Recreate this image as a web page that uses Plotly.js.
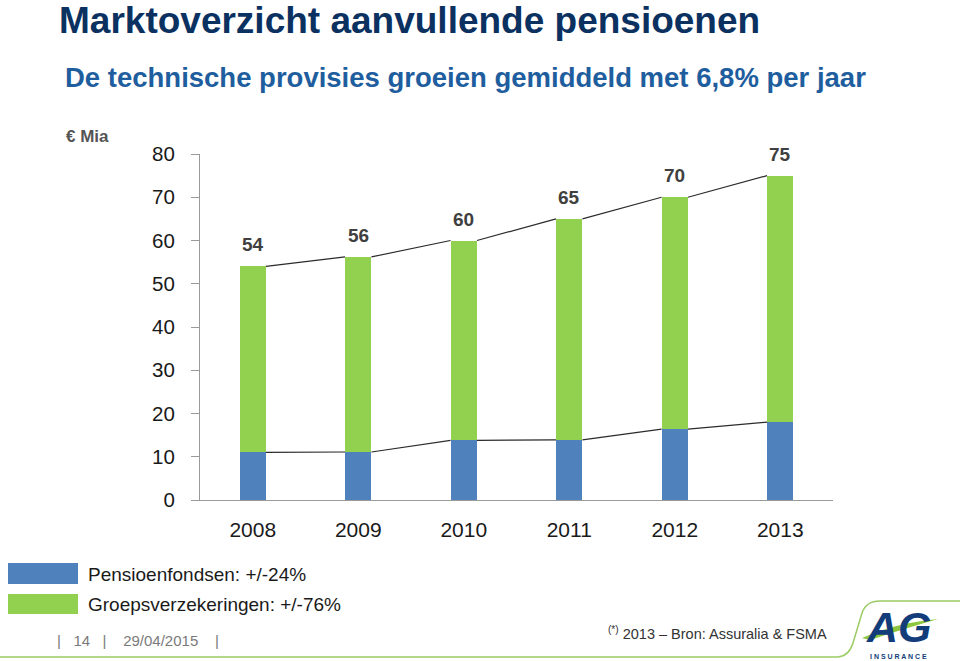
<!DOCTYPE html>
<html>
<head>
<meta charset="utf-8">
<script src="https://cdn.plot.ly/plotly-3.0.1.min.js"></script>
<style>html,body{margin:0;padding:0;background:#fff;}#chart{width:960px;height:661px;}</style>
</head>
<body>
<div id="chart"></div>
<script>
// ---- data ----
const years = ["2008", "2009", "2010", "2011", "2012", "2013"];
const pensioenfondsen = [11.0, 11.1, 13.8, 13.9, 16.4, 18.0];
const groepsverzekeringen = [43.0, 45.1, 46.2, 51.1, 53.6, 57.0];
const seriesNames = ["Pensioenfondsen: +/-24%", "Groepsverzekeringen: +/-76%"];
const yTicks = [0, 10, 20, 30, 40, 50, 60, 70, 80];

// ---- layout helpers (pixel -> paper) ----
const L = 200, R = 833, T = 154, B = 500;
const px = x => (x - L) / (R - L);
const py = y => (B - y) / (B - T);

const idx = years.map((_, i) => i);
const totals = pensioenfondsen.map((v, i) => v + groepsverzekeringen[i]);
const bw = 0.25;

function seriesLine(vals) {
  const xs = [], ys = [];
  for (let i = 0; i < vals.length - 1; i++) {
    xs.push(i + bw / 2, i + 1 - bw / 2, null);
    ys.push(vals[i], vals[i + 1], null);
  }
  return {x: xs, y: ys, mode: 'lines', type: 'scatter', line: {color: '#2b2b2b', width: 1.2}, hoverinfo: 'skip', showlegend: false};
}

const colors = ['#4f81bd', '#92d050'];
const FONT = '"Liberation Sans", Arial, sans-serif';

const traces = [
  {type: 'bar', x: idx, y: pensioenfondsen, name: seriesNames[0], marker: {color: colors[0]}, width: bw, showlegend: false},
  {type: 'bar', x: idx, y: groepsverzekeringen, name: seriesNames[1], marker: {color: colors[1]}, width: bw, showlegend: false},
  seriesLine(pensioenfondsen),
  seriesLine(totals)
];

const annotations = [];
totals.forEach((t, i) => {
  annotations.push({x: i, y: t, xref: 'x', yref: 'y', text: String(Math.round(t)), showarrow: false,
    yanchor: 'bottom', yshift: 9, font: {family: FONT, size: 19, color: '#404040', weight: 'bold'}});
});
// titles
annotations.push({xref: 'paper', yref: 'paper', x: px(57), y: py(21), xanchor: 'left', yanchor: 'middle', showarrow: false,
  text: 'Marktoverzicht aanvullende pensioenen', font: {family: FONT, size: 37, color: '#0b3161', weight: 'bold'}});
annotations.push({xref: 'paper', yref: 'paper', x: px(63), y: py(77), xanchor: 'left', yanchor: 'middle', showarrow: false,
  text: 'De technische provisies groeien gemiddeld met 6,8% per jaar', font: {family: FONT, size: 27.5, color: '#1f5e9e', weight: 'bold'}});
annotations.push({xref: 'paper', yref: 'paper', x: px(64), y: py(136), xanchor: 'left', yanchor: 'middle', showarrow: false,
  text: '€ Mia', font: {family: FONT, size: 17, color: '#555555', weight: 'bold'}});
// legend texts
const legY = [574, 604];
seriesNames.forEach((n, i) => {
  annotations.push({xref: 'paper', yref: 'paper', x: px(86), y: py(legY[i]), xanchor: 'left', yanchor: 'middle', showarrow: false,
    text: n, font: {family: FONT, size: 19, color: '#1a1a1a'}});
});
// footer
annotations.push({xref: 'paper', yref: 'paper', x: px(55), y: py(640), xanchor: 'left', yanchor: 'middle', showarrow: false,
  text: '|&nbsp;&nbsp;&nbsp;14&nbsp;&nbsp;&nbsp;|&nbsp;&nbsp;&nbsp;&nbsp;29/04/2015&nbsp;&nbsp;&nbsp;&nbsp;|', font: {family: FONT, size: 15, color: '#7a7a7a'}});
annotations.push({xref: 'paper', yref: 'paper', x: px(829), y: py(633), xanchor: 'right', yanchor: 'middle', showarrow: false,
  text: '<sup>(*)</sup> 2013 – Bron: Assuralia &amp; FSMA', font: {family: FONT, size: 14.5, color: '#333333'}});
// logo
annotations.push({xref: 'paper', yref: 'paper', x: px(899), y: py(627), xanchor: 'center', yanchor: 'middle', showarrow: false,
  text: '<i><b>AG</b></i>', font: {family: FONT, size: 43, color: '#123d7a'}});
annotations.push({xref: 'paper', yref: 'paper', x: px(898), y: py(656.5), xanchor: 'center', yanchor: 'middle', showarrow: false,
  text: 'I N S U R A N C E', font: {family: FONT, size: 7, color: '#123d7a', weight: 'bold'}});

const shapes = [
  {type: 'rect', xref: 'paper', yref: 'paper', x0: px(8), x1: px(78), y0: py(563), y1: py(584), fillcolor: colors[0], line: {width: 0}},
  {type: 'rect', xref: 'paper', yref: 'paper', x0: px(8), x1: px(78), y0: py(594), y1: py(614), fillcolor: colors[1], line: {width: 0}},
  {type: 'path', xref: 'paper', yref: 'paper',
    path: `M ${px(0)},${py(657)} L ${px(838)},${py(657)} Q ${px(849)},${py(656)} ${px(853)},${py(643)} L ${px(862)},${py(613)} Q ${px(866)},${py(601)} ${px(880)},${py(601)} L ${px(960)},${py(601)}`,
    line: {color: '#9ccc65', width: 1.5}},
  {type: 'path', xref: 'paper', yref: 'paper',
    path: `M ${px(862)},${py(638)} Q ${px(895)},${py(623)} ${px(938)},${py(619)} Q ${px(900)},${py(630)} ${px(870)},${py(640)} Z`,
    fillcolor: '#8dc63f', line: {width: 0}}
];

const layout = {
  width: 960, height: 661,
  margin: {l: L, r: 960 - R, t: T, b: 661 - B},
  paper_bgcolor: '#ffffff', plot_bgcolor: '#ffffff',
  barmode: 'stack',
  showlegend: false,
  font: {family: FONT},
  xaxis: {
    range: [-0.5, years.length - 0.5], tickmode: 'array', tickvals: idx, ticktext: years,
    showgrid: false, zeroline: false, showline: true, linecolor: '#9a9a9a', linewidth: 1,
    ticks: '', ticklabelstandoff: 11, tickfont: {family: FONT, size: 21, color: '#1a1a1a'}, fixedrange: true
  },
  yaxis: {
    range: [0, 80], tickmode: 'array', tickvals: yTicks, showgrid: false, zeroline: false,
    showline: true, linecolor: '#9a9a9a', linewidth: 1, ticks: 'outside', ticklen: 8, tickcolor: '#9a9a9a',
    ticklabelstandoff: 12, tickfont: {family: FONT, size: 20.5, color: '#1a1a1a'}, fixedrange: true
  },
  annotations: annotations,
  shapes: shapes
};

Plotly.newPlot('chart', traces, layout, {displayModeBar: false, staticPlot: true});
</script>
</body>
</html>
